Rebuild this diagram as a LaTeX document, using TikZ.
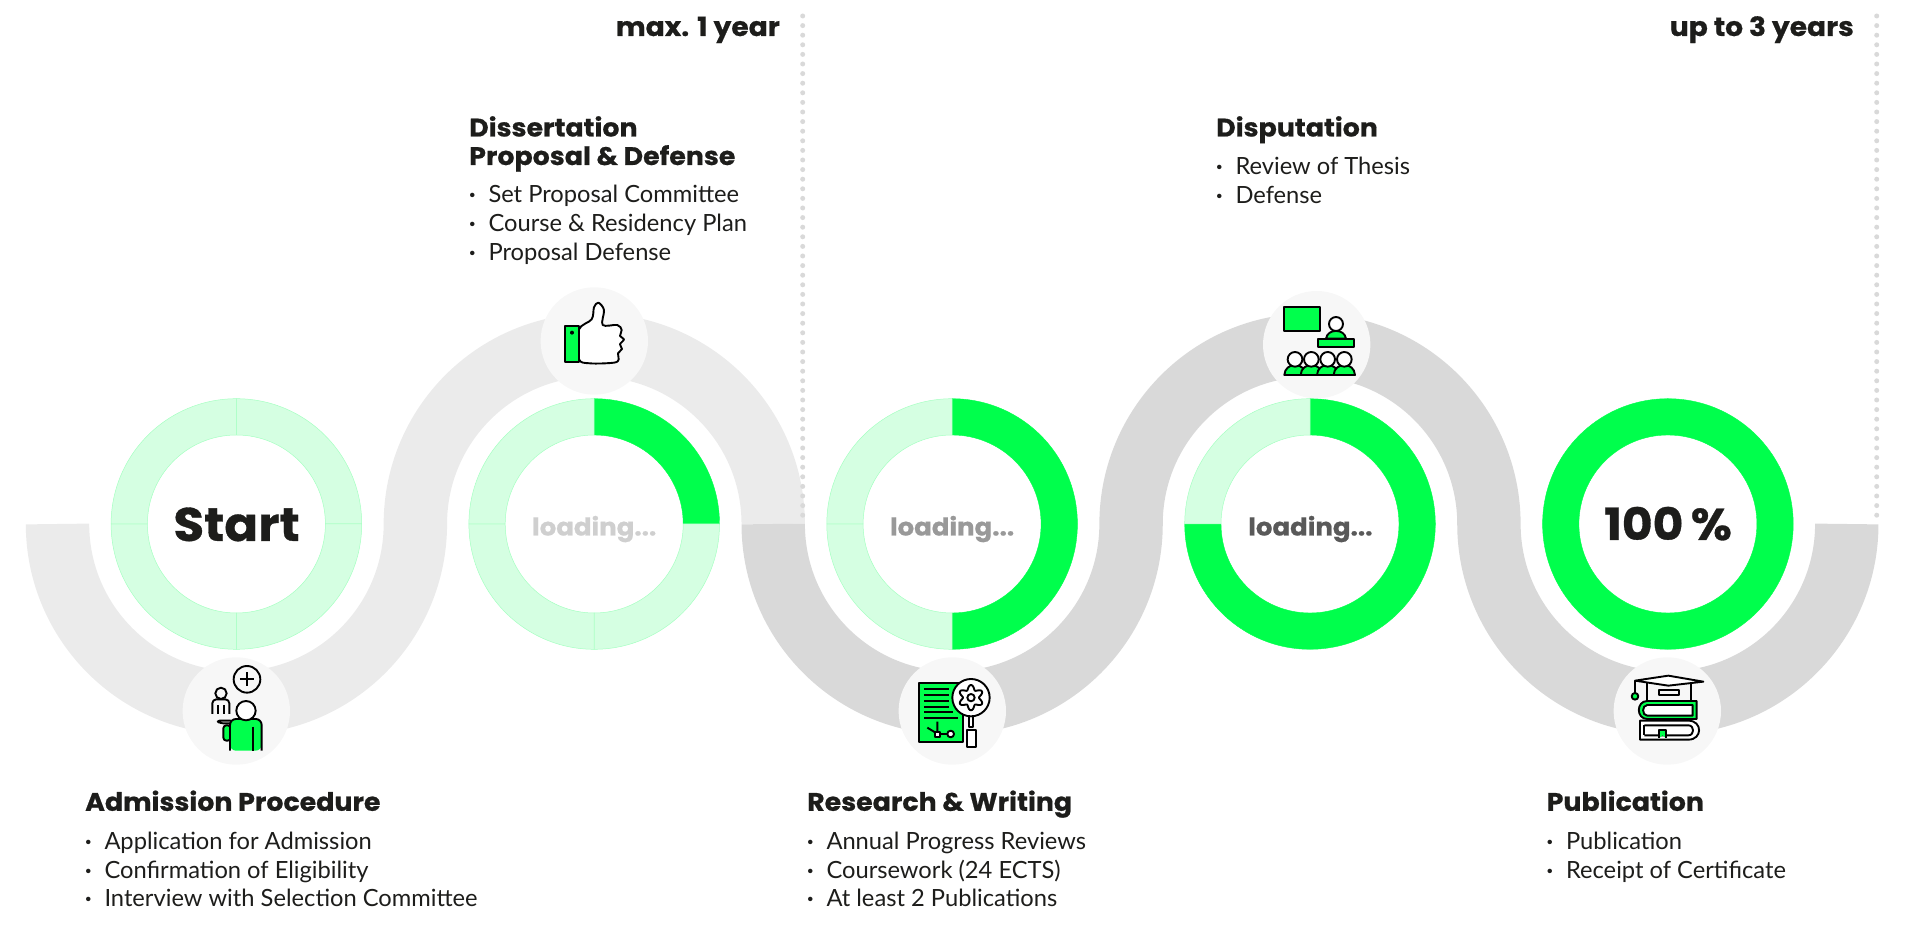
\documentclass[tikz,border=0pt]{standalone}
\usepackage{fontspec}
\setmainfont{Lato}
\newfontfamily\headfont[FakeStretch=1.06,BoldFeatures={FakeBold=.7}]{Poppins}
\definecolor{inkdark}{HTML}{1D1D1B}
\definecolor{signal}{HTML}{00FF4C}
\definecolor{signalpale}{HTML}{D5FFE2}
\definecolor{signalrim}{HTML}{A6FFC2}
\definecolor{trackpale}{HTML}{EBEBEB}
\definecolor{trackdark}{HTML}{D9D9D9}
\definecolor{iconback}{HTML}{F7F7F7}
\tikzset{
	x=1pt,y=1pt,
	% the wavy band
	track/.style={line width=63.4pt},
	% ring quarters
	ringdone/.style={fill=signal,draw=signal,line width=.4pt},
	ringopen/.style={fill=signalpale,draw=signalrim,line width=.5pt},
	% text
	toptext/.style={anchor=base east,inner sep=0pt,text=inkdark,font=\headfont\bfseries\fontsize{26.5}{26.5}\selectfont},
	headtext/.style={anchor=base west,inner sep=0pt,text=inkdark,font=\headfont\bfseries\fontsize{25.3}{25.3}\selectfont},
	itemtext/.style={anchor=base west,inner sep=0pt,text=inkdark,font=\fontsize{23.7}{23.7}\selectfont},
	bigtext/.style={anchor=base,inner sep=0pt,text=inkdark,font=\headfont\bfseries\fontsize{47}{47}\selectfont},
	fulltext/.style={anchor=base,inner sep=0pt,text=inkdark,font=\headfont\bfseries\fontsize{44.5}{44.5}\selectfont},
	loadtext/.style={anchor=base,inner sep=0pt,font=\headfont\bfseries\fontsize{24.5}{24.5}\selectfont},
	% the dotted limits
	limit/.style={trackdark,line width=5pt,line cap=round,dash pattern=on 0pt off 9.6pt},
	% icons, in the pixels of a 140x130 cell
	iconcell/.style={shift={#1},x=.3333pt,y=-.3333pt},
	iconback/.style={fill=iconback},
	iconline/.style={draw=black,line width=1.9pt,line join=round},
}
\newcommand{\bulletbox}[1]{\makebox[19.3pt][l]{\textbf{·}}#1}
\begin{document}
\begin{tikzpicture}
\useasboundingbox (0,0) rectangle (1920,948);
% the band
\coordinate (bandstart) at (57.5,424);
\coordinate (bandswitch) at (773.2,424);
\draw[track,trackpale] (bandstart) arc[start angle=180,end angle=360,radius=178.93] arc[start angle=180,end angle=0,radius=178.93];
\draw[track,trackdark] (bandswitch) arc[start angle=180,end angle=360,radius=178.93] arc[start angle=180,end angle=0,radius=178.93] arc[start angle=180,end angle=360,radius=178.93];
% the limits
\coordinate (limitatop) at (802.7,932);
\coordinate (limitabot) at (802.7,426);
\coordinate (limitbtop) at (1876.7,932);
\coordinate (limitbbot) at (1876.7,426);
\draw[limit] (limitatop) -- (limitabot);
\draw[limit] (limitbtop) -- (limitbbot);
% the rings, four quarters each
\foreach \cx/\done in {236.4/0,594.2/1,952.1/2,1310/3,1667.9/4}
  \foreach \q in {0,1,2,3} {
    \ifnum\q<\done \def\part{ringdone}\else\def\part{ringopen}\fi
    \pgfmathsetmacro{\a}{90-90*\q}
    \pgfmathsetmacro{\b}{\a-90}
    \path[\part,shift={(\cx,424)}] (\a:125.3) arc[start angle=\a,end angle=\b,radius=125.3] -- (\b:89) arc[start angle=\b,end angle=\a,radius=89] -- cycle;
  }
% ring texts
\node[bigtext] (starttext) at (236.6,407) {Start};
\node[loadtext,text=black!19] (loadone) at (594.2,412.5) {loading...};
\node[loadtext,text=black!40] (loadtwo) at (952.1,412.5) {loading...};
\node[loadtext,text=black!65] (loadthree) at (1310.4,412.5) {loading...};
\node[fulltext] (fullmark) at (1668,408) {100\,\%};
% icon circles
\foreach \n/\cx/\cy in {admit/236.3/237,thumb/594.3/607,paper/952.3/237,talk/1316.7/603.3,book/1667.3/237}
  \fill[iconback] (\cx,\cy) circle[radius=53.7] coordinate (\n);
% person
\begin{scope}[iconcell={(170,298)}]
\draw[iconline] (231,88) circle[radius=40];
\draw[iconline] (210,88) -- (252,88) (231,67) -- (231,109);
\draw[iconline] (153,130) circle[radius=17];
\draw[iconline,rounded corners=4pt] (127,192) -- (127,148) -- (178,148) -- (178,192);
\draw[iconline] (144,165) -- (144,192) (162,165) -- (162,192);
\draw[iconline,fill=signal,rounded corners=3pt] (160,226) -- (160,272) -- (182,272) -- (182,226) -- cycle;
\draw[iconline,white,fill=white,draw=black,rounded corners=3pt] (140,212) -- (190,212) -- (190,220) -- (150,220) -- cycle;
\fill[signal,rounded corners=6pt] (180,302) -- (180,207) -- (275,207) -- (275,302) -- cycle;
\draw[iconline,rounded corners=6pt] (180,302) -- (180,207) -- (275,207) -- (275,302);
\draw[iconline] (248,230) -- (248,302);
\draw[iconline,fill=white] (228,182) circle[radius=29];
\end{scope}
% thumb
\begin{scope}[iconcell={(530,668)}]
\draw[iconline,fill=white] plot[smooth cycle,tension=.55] coordinates {(146,150) (185,118) (192,82) (205,68) (222,90) (218,135) (262,135) (275,150) (270,168) (282,178) (270,193) (276,207) (264,220) (266,238) (252,248) (180,250) (146,236)};
\draw[iconline,fill=signal] (106,137) rectangle (146,246);
\fill[black] (126,158) circle[radius=6];
\end{scope}
% paper and magnifier
\begin{scope}[iconcell={(890,298)}]
\draw[iconline,fill=signal] (86,99) rectangle (220,277);
\foreach \ly/\lx in {118/178,136/178,153/178,170/178,187/188,205/203}
  \draw[iconline] (103,\ly) -- (\lx,\ly);
\draw[iconline] (112,233) -- (140,250) (142,215) -- (142,245) (150,252) -- (172,252);
\draw[iconline,fill=white] (135,245) rectangle (150,262);
\draw[iconline,fill=white] (182,252) circle[radius=10];
\draw[iconline,fill=white] (236,198) rectangle (250,232);
\draw[iconline,fill=white] (230,240) rectangle (257,290);
\draw[iconline,fill=white] (243,143) circle[radius=56];
\draw[iconline] plot[domain=0:360,samples=73,smooth cycle] ({243+(31-7*cos(6*\x))*cos(\x)},{143+(31-7*cos(6*\x))*sin(\x)});
\draw[iconline] (243,143) circle[radius=11];
\end{scope}
% talk
\begin{scope}[iconcell={(1250,668)}]
\draw[iconline,fill=signal] (101,80) rectangle (210,154);
\draw[iconline,fill=signal] (228,176) .. controls (232,145) and (284,145) .. (288,176) -- cycle;
\draw[iconline,fill=white] (258,132) circle[radius=21];
\draw[iconline,fill=signal] (204,176) rectangle (312,200);
\foreach \px in {135,184,233,283} {
  \draw[iconline,fill=signal] (\px-32,285) .. controls (\px-30,245) and (\px+30,245) .. (\px+32,285) -- cycle;
  \draw[iconline,fill=white] (\px,238) circle[radius=22];
}
\end{scope}
% cap and books
\begin{scope}[iconcell={(1610,298)}]
\draw[iconline] (110,100) -- (110,155) (243,100) -- (243,155);
\draw[iconline,fill=iconback] (148,120) rectangle (206,136);
\draw[iconline,fill=white] (75,92) -- (175,77) -- (280,95) -- (175,107) -- cycle;
\draw[iconline] (75,92) -- (75,130);
\draw[iconline,fill=signal] (75,139) circle[radius=10];
\draw[iconline,fill=signal] (260,153) -- (112,153) .. controls (78,153) and (78,207) .. (112,207) -- (260,207) -- cycle;
\draw[iconline,fill=white] (248,165) -- (112,165) .. controls (95,165) and (95,197) .. (112,197) -- (248,197) -- cycle;
\draw[iconline,fill=white] (90,212) -- (235,212) .. controls (278,212) and (278,269) .. (235,269) -- (90,269) -- cycle;
\draw[iconline] (103,226) -- (235,226) .. controls (254,226) and (254,256) .. (235,256) -- (103,256);
\draw[iconline] (103,226) -- (103,256);
\fill[signal] (148,240) -- (167,240) -- (167,264) -- (158,256) -- (148,264) -- cycle;
\draw[iconline] (148,264) -- (148,240) -- (167,240) -- (167,264);
\end{scope}
% the top labels
\node[toptext] (oneyear) at (780,912) {max. 1 year};
\node[toptext] (threeyears) at (1854,912) {up to 3 years};
% the steps
\node[headtext] (admission) at (85,137.2) {Admission Procedure};
\foreach \i/\txt in {0/Application for Admission,1/Confirmation of Eligibility,2/Interview with Selection Committee}
  \node[itemtext] (admission\i) at (85,{98.3-28.4*\i}) {\bulletbox{\txt}};
\node[headtext] (dissertation) at (469,811.5) {Dissertation};
\node[headtext] (proposal) at (469,783) {Proposal \& Defense};
\foreach \i/\txt in {0/Set Proposal Committee,1/Course \& Residency Plan,2/Proposal Defense}
  \node[itemtext] (proposal\i) at (469,{745-28.7*\i}) {\bulletbox{\txt}};
\node[headtext] (research) at (807,137.2) {Research \& Writing};
\foreach \i/\txt in {0/Annual Progress Reviews,1/Coursework (24 ECTS),2/At least 2 Publications}
  \node[itemtext] (research\i) at (807,{98.3-28.4*\i}) {\bulletbox{\txt}};
\node[headtext] (disputation) at (1216,811.5) {Disputation};
\foreach \i/\txt in {0/Review of Thesis,1/Defense}
  \node[itemtext] (disputation\i) at (1216,{773-28.7*\i}) {\bulletbox{\txt}};
\node[headtext] (publication) at (1546.5,137.2) {Publication};
\foreach \i/\txt in {0/Publication,1/Receipt of Certificate}
  \node[itemtext] (publication\i) at (1546.5,{98.3-28.4*\i}) {\bulletbox{\txt}};
\end{tikzpicture}
\end{document}
